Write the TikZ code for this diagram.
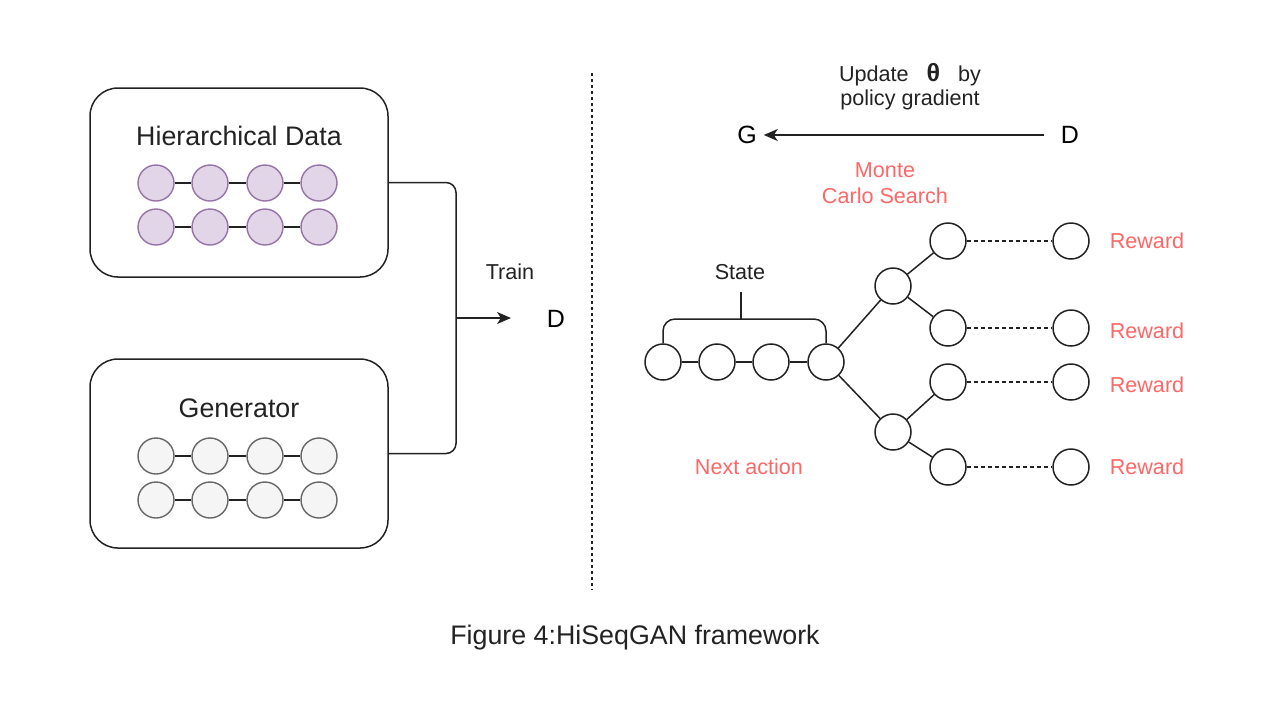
\documentclass[tikz,border=0pt]{standalone}
\usepackage{fontspec}
\setmainfont{Liberation Sans}
\usetikzlibrary{arrows.meta}
\definecolor{txt}{HTML}{222222}
\definecolor{redtxt}{HTML}{FF6666}
\definecolor{pfill}{HTML}{E1D5E7}
\definecolor{pdraw}{HTML}{9673A6}
\definecolor{gfill}{HTML}{F5F5F5}
\definecolor{gdraw}{HTML}{666666}
\definecolor{ln}{HTML}{222222}
\tikzset{
  box/.style={draw=ln, line width=0.75pt, rounded corners=14pt, minimum width=149pt, minimum height=94.5pt, inner sep=0pt},
  pc/.style={circle, draw=pdraw, fill=pfill, line width=0.7pt, minimum size=18pt, inner sep=0pt},
  gc/.style={circle, draw=gdraw, fill=gfill, line width=0.7pt, minimum size=18pt, inner sep=0pt},
  wc/.style={circle, draw=ln, fill=white, line width=0.75pt, minimum size=18pt, inner sep=0pt},
  conn/.style={draw=ln, line width=0.75pt},
  arr/.style={draw=ln, line width=0.75pt, -{Stealth[length=7pt,width=6pt,inset=2pt]}},
  dsh/.style={draw=ln, line width=0.7pt, dash pattern=on 2pt off 1.5pt},
  big/.style={font=\fontsize{13.4pt}{16pt}\selectfont, text=txt},
  mid/.style={font=\fontsize{12.5pt}{15pt}\selectfont, text=black},
  sm/.style={font=\fontsize{10.8pt}{13pt}\selectfont, text=txt, align=center},
  red/.style={font=\fontsize{10.8pt}{13pt}\selectfont, text=redtxt, align=center},
}
\begin{document}
\begin{tikzpicture}[x=0.5pt,y=-0.5pt]
\useasboundingbox (0,0) rectangle (1280,720);
% left boxes
\node[box] (box1) at (239,182.5) {};
\node[box] (box2) at (239,453.5) {};
\node[big] (hd) at (239,136) {Hierarchical Data};
\node[big] (gen) at (239,408) {Generator};
% circles
\foreach \i/\x in {1/156,2/210,3/265,4/319}{
  \node[pc] (pa\i) at (\x,183) {};
  \node[pc] (pb\i) at (\x,227) {};
  \node[gc] (ga\i) at (\x,456) {};
  \node[gc] (gb\i) at (\x,500) {};
}
\foreach \r in {pa,pb,ga,gb}{
  \draw[conn] (\r1) -- (\r2) (\r2) -- (\r3) (\r3) -- (\r4);
}
% join and train
\coordinate (j) at (456,318);
\coordinate (tip) at (511,318);
\draw[conn, rounded corners=5pt] (box1.east) -| (j) |- (box2.east);
\draw[arr] (j) -- (tip);
\node[sm] (train) at (510,272) {Train};
\node[mid] (dl) at (556,319) {D};
% separator
\coordinate (s1) at (592,73);
\coordinate (s2) at (592,590);
\draw[draw=ln, line width=0.7pt, dash pattern=on 1.5pt off 1.5pt] (s1) -- (s2);
% top right
\node[sm] (upd) at (910,75) {Update\ \ \ {\fontsize{12.5pt}{13pt}\selectfont\textbf{θ}}\ \ \ by};
\node[sm] (pg) at (910,100) {policy gradient};
\node[mid] (G) at (747,135) {G};
\node[mid] (D) at (1070,135) {D};
\draw[arr] (D.west) ++(-10,0) coordinate (dst) -- (G.east);
\node[red] (mcs) at (885,183) {Monte\\Carlo Search};
% state chain
\foreach \i/\x in {1/663,2/717,3/771,4/826}{
  \node[wc] (s\i) at (\x,362) {};
}
\draw[conn] (s1) -- (s2) (s2) -- (s3) (s3) -- (s4);
\coordinate (b1) at (663,319);
\coordinate (b2) at (826,319);
\coordinate (bm) at (741,319);
\coordinate (bt) at (741,292);
\draw[conn, rounded corners=6pt] (s1.north) -- (b1) -- (b2) -- (s4.north);
\draw[conn] (bm) -- (bt);
\node[sm] (state) at (740,272) {State};
% tree
\node[wc] (t1) at (893,286) {};
\node[wc] (t2) at (893,432) {};
\node[wc] (l1) at (948,241) {};
\node[wc] (l2) at (948,328) {};
\node[wc] (l3) at (948,382) {};
\node[wc] (l4) at (948,467) {};
\node[wc] (r1) at (1071,241) {};
\node[wc] (r2) at (1071,328) {};
\node[wc] (r3) at (1071,382) {};
\node[wc] (r4) at (1071,467) {};
\draw[conn] (s4) -- (t1) (s4) -- (t2) (t1) -- (l1) (t1) -- (l2) (t2) -- (l3) (t2) -- (l4);
\foreach \i in {1,2,3,4}{ \draw[dsh] (l\i) -- (r\i); }
\node[red] (rw1) at (1147,241) {Reward};
\node[red] (rw2) at (1147,331) {Reward};
\node[red] (rw3) at (1147,385) {Reward};
\node[red] (rw4) at (1147,467) {Reward};
\node[red] (na) at (749,467) {Next action};
% caption
\node[big, text=txt] (cap) at (635,638) {Figure 4:HiSeqGAN framework};
\end{tikzpicture}
\end{document}
